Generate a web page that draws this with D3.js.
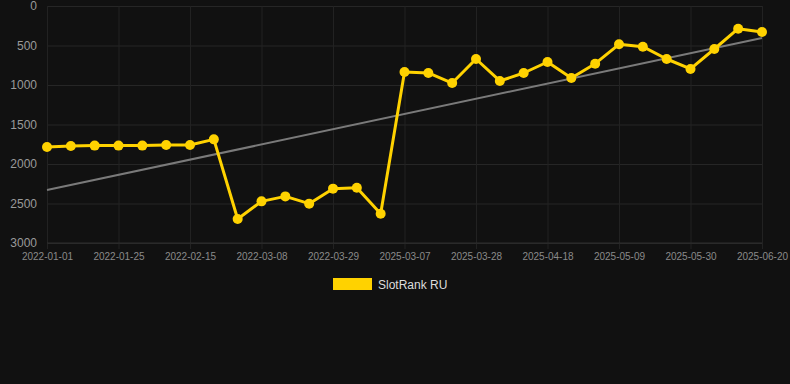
<!DOCTYPE html>
<html>
<head>
<meta charset="utf-8">
<script src="https://cdn.jsdelivr.net/npm/d3@7"></script>
<style>
  html, body { margin: 0; padding: 0; background: #111111; }
  svg { display: block; font-family: Arial, "Liberation Sans", Helvetica, sans-serif; }
</style>
</head>
<body>
<div class="chart"></div>
<script>
// SlotRank RU chart
let dates = [
  "2022-01-01", "2022-01-11", "2022-01-18", "2022-01-25", "2022-02-01", "2022-02-08",
  "2022-02-15", "2022-02-22", "2022-03-01", "2022-03-08", "2022-03-15", "2022-03-22",
  "2022-03-29", "2022-04-05", "2022-04-12",
  "2025-03-07", "2025-03-14", "2025-03-21", "2025-03-28", "2025-04-04", "2025-04-11",
  "2025-04-18", "2025-04-25", "2025-05-02", "2025-05-09", "2025-05-16", "2025-05-23",
  "2025-05-30", "2025-06-06", "2025-06-13", "2025-06-20"
];
let rankValues = [
  1785, 1772, 1767, 1767, 1767, 1760, 1760, 1688, 2696, 2473, 2410, 2502,
  2312, 2300, 2629,
  835, 848, 975, 671, 949, 848, 709, 911, 730, 485, 515, 671, 797, 544, 287, 329
];
let trendValues = [2330, 405];
let yTicks = [0, 500, 1000, 1500, 2000, 2500, 3000];
let seriesName = "SlotRank RU";

let svgWidth = 790;
let svgHeight = 384;
let margin = { top: 6, right: 28, bottom: 141, left: 47 };
let width = svgWidth - margin.left - margin.right;
let height = svgHeight - margin.top - margin.bottom;

let svg = d3.select(".chart")
  .append("svg")
  .attr("width", svgWidth)
  .attr("height", svgHeight);

svg.append("rect")
  .attr("width", svgWidth)
  .attr("height", svgHeight)
  .attr("fill", "#111111");

let chartGroup = svg.append("g")
  .attr("transform", `translate(${margin.left}, ${margin.top})`);

let xScale = d3.scalePoint()
  .domain(dates)
  .range([0, width]);

let yScale = d3.scaleLinear()
  .domain([0, 3000])
  .range([0, height]);

// every third date gets a label and a grid line
let labelDates = dates.filter((d, i) => i % 3 === 0);

// horizontal grid
let leftAxis = d3.axisLeft(yScale)
  .tickValues(yTicks)
  .tickFormat(d3.format("d"))
  .tickSize(-width)
  .tickPadding(10);

let yAxis = chartGroup.append("g").call(leftAxis);
yAxis.select(".domain").remove();
yAxis.selectAll("line").attr("stroke", "#262626").attr("stroke-width", 1);
yAxis.selectAll("text")
  .attr("fill", "#9a9a9a")
  .attr("font-size", "12px");

// vertical grid + x labels
let bottomAxis = d3.axisBottom(xScale)
  .tickValues(labelDates)
  .tickSize(-height - 6)
  .tickPadding(4);

let xAxis = chartGroup.append("g")
  .attr("transform", `translate(0, ${height + 6})`)
  .call(bottomAxis);
xAxis.select(".domain").remove();
xAxis.selectAll("line").attr("stroke", "#222222").attr("stroke-width", 1);
xAxis.selectAll("text")
  .attr("fill", "#8a8a8a")
  .attr("font-size", "10px");

// axis baseline
chartGroup.append("line")
  .attr("x1", 0)
  .attr("x2", width)
  .attr("y1", yScale(3000))
  .attr("y2", yScale(3000))
  .attr("stroke", "#2e2e2e");

// trend line
chartGroup.append("line")
  .attr("x1", xScale(dates[0]))
  .attr("x2", xScale(dates[dates.length - 1]))
  .attr("y1", yScale(trendValues[0]))
  .attr("y2", yScale(trendValues[1]))
  .attr("stroke", "#7a7a7a")
  .attr("stroke-width", 2);

// main series
let line = d3.line()
  .x((d, i) => xScale(dates[i]))
  .y(d => yScale(d));

chartGroup.append("path")
  .datum(rankValues)
  .attr("d", line)
  .attr("fill", "none")
  .attr("stroke", "#ffd200")
  .attr("stroke-width", 3)
  .attr("stroke-linejoin", "round");

chartGroup.selectAll("circle")
  .data(rankValues)
  .enter()
  .append("circle")
  .attr("cx", (d, i) => xScale(dates[i]))
  .attr("cy", d => yScale(d))
  .attr("r", 5)
  .attr("fill", "#ffd200");

// legend
let legend = svg.append("g")
  .attr("transform", "translate(333, 278)");

legend.append("rect")
  .attr("width", 39)
  .attr("height", 12)
  .attr("fill", "#ffd200");

legend.append("text")
  .attr("x", 45)
  .attr("y", 10.5)
  .attr("fill", "#dddddd")
  .attr("font-size", "12px")
  .text(seriesName);
</script>
</body>
</html>
